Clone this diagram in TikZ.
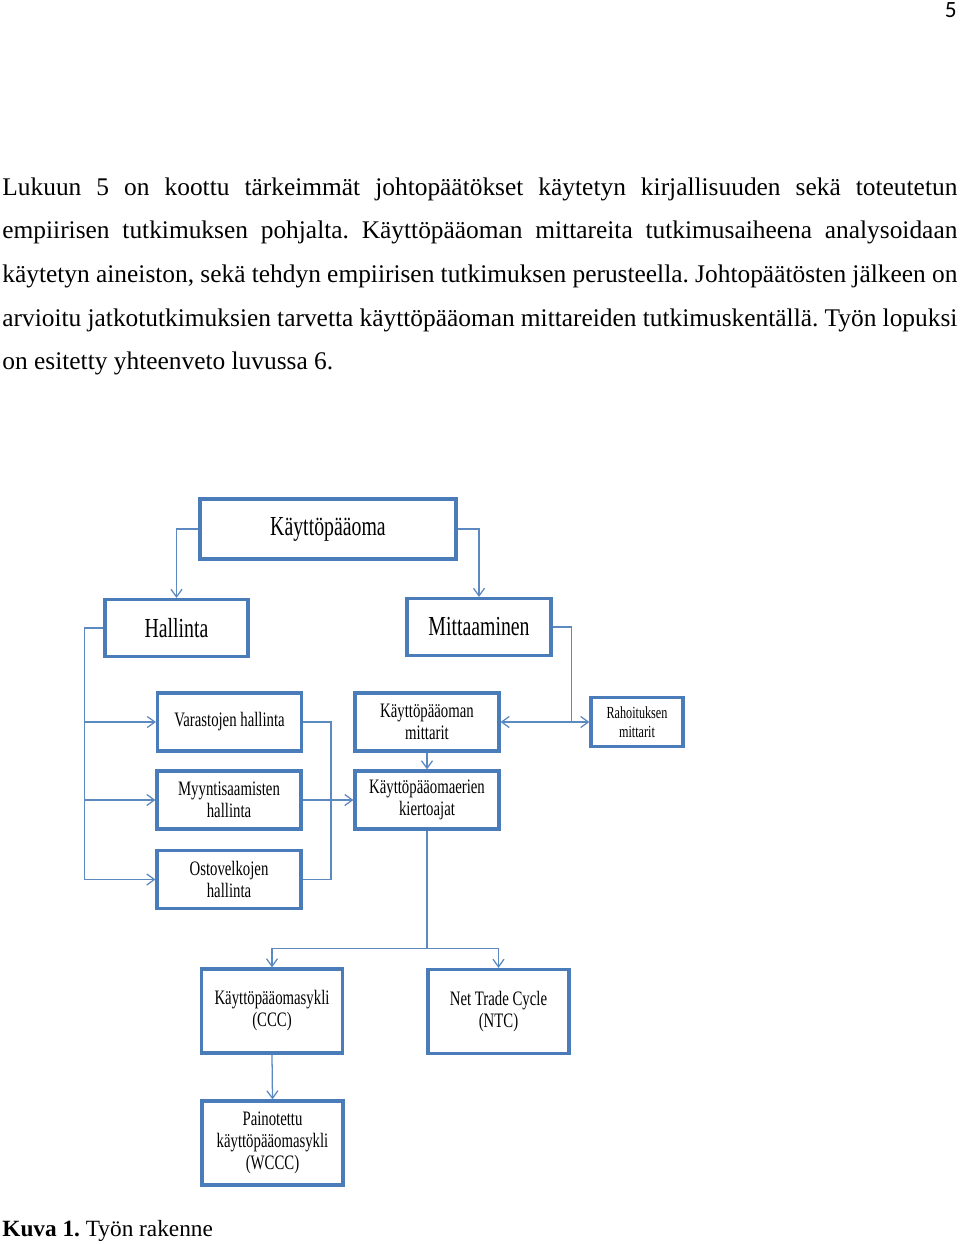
\documentclass[tikz,border=0pt]{standalone}
\usepackage{fontspec}
\setmainfont{Liberation Serif}
\newfontfamily\diagfont{Liberation Serif}[FakeStretch=0.72]
\newfontfamily\pagefont{Carlito}
\usetikzlibrary{arrows.meta}
\definecolor{boxblue}{RGB}{74,124,186}
\definecolor{linkblue}{RGB}{91,137,192}

\begin{document}
\begin{tikzpicture}[x=0.4725pt,y=-0.4725pt,>={Straight Barb[length=3.6pt,width=5.2pt]},
  box/.style={draw=boxblue,line width=1.5pt,fill=white,align=center,inner sep=1pt,
    font=\diagfont\fontsize{9.7pt}{10.4pt}\selectfont},
  bigbox/.style={box,font=\diagfont\fontsize{13pt}{15pt}\selectfont},
  midbox/.style={box,minimum width=68pt,minimum height=27.4pt},
  tallbox/.style={box,minimum width=66.6pt,minimum height=39.7pt},
  link/.style={draw=linkblue,line width=0.6pt}]
\useasboundingbox (0,0) rectangle (960,1244);

% Page number, text and caption
\node[anchor=base east,inner sep=0,font=\pagefont\fontsize{11pt}{13pt}\selectfont] (pagenum) at (957,17) {5};
\node[anchor=base west,inner sep=0] (para) at (2,195) {\parbox[t]{451.2pt}{\fontsize{12pt}{20.67pt}\selectfont
  \frenchspacing\hyphenpenalty=10000
  Lukuun 5 on koottu tärkeimmät johtopäätökset käytetyn kirjallisuuden sekä toteutetun\linebreak
  empiirisen tutkimuksen pohjalta. Käyttöpääoman mittareita tutkimusaiheena analysoidaan\linebreak
  käytetyn aineiston, sekä tehdyn empiirisen tutkimuksen perusteella. Johtopäätösten jälkeen on\linebreak
  arvioitu jatkotutkimuksien tarvetta käyttöpääoman mittareiden tutkimuskentällä. Työn lopuksi\linebreak
  on esitetty yhteenveto luvussa 6.}};
\node[anchor=base west,inner sep=0,font=\fontsize{11pt}{13pt}\selectfont] (caption) at (2,1236)
  {\frenchspacing\textbf{Kuva 1.} Työn rakenne};

% Top levels
\node[bigbox,minimum width=121pt,minimum height=28.4pt] (kp) at (328,529) {Käyttöpääoma};
\node[bigbox,minimum width=67.6pt,minimum height=26.9pt] (hal) at (176.5,628) {Hallinta};
\node[bigbox,minimum width=68pt,minimum height=26.9pt] (mit) at (479,627) {Mittaaminen};

% Hallinta side
\node[midbox] (var) at (229.5,722) {Varastojen hallinta};
\node[midbox] (myy) at (229,800) {Myyntisaamisten\\hallinta};
\node[midbox] (ost) at (229,879.5) {Ostovelkojen\\hallinta};

% Mittaaminen side
\node[midbox] (kpm) at (427,722) {Käyttöpääoman\\mittarit};
\node[box,minimum width=43.5pt,minimum height=23.2pt,font=\diagfont\fontsize{8pt}{9pt}\selectfont] (rah) at (637,722) {Rahoituksen\\mittarit};
\node[midbox] (kie) at (427,800) {Käyttöpääomaerien\\kiertoajat};

% Cycles
\node[tallbox] (ccc) at (272,1011) {Käyttöpääomasykli\\(CCC)};
\node[tallbox] (ntc) at (498.5,1011.5) {Net Trade Cycle\\(NTC)};
\node[tallbox] (wccc) at (272.5,1143) {Painotettu\\käyttöpääomasykli\\(WCCC)};

% Connectors
\draw[link,->] (kp.west) -| (hal.north);
\draw[link,->] (kp.east) -| (mit.north);
\draw[link,->] (hal.west) -- ++(-19,0) coordinate (hbus) |- (ost.west);
\foreach \n in {var,myy}
  \draw[link,->] (hbus |- \n.west) -- (\n.west);
\draw[link] (var.east) -- ++(28,0) |- (ost.east);
\draw[link,->] (myy.east) -- (kie.west);
\draw[link] (mit.east) -- ++(19,0) coordinate (mbus) -- (mbus |- kpm.east);
\draw[link,<->] (kpm.east) -- (rah.west);
\draw[link,->] (kpm.south) -- (kie.north);
\draw[link] (kie.south) -- ++(0,118) coordinate (split);
\draw[link,->] (split) -| (ccc.north);
\draw[link,->] (split) -| (ntc.north);
\draw[link,->] (ccc.south) -- (wccc.north);
\end{tikzpicture}
\end{document}
